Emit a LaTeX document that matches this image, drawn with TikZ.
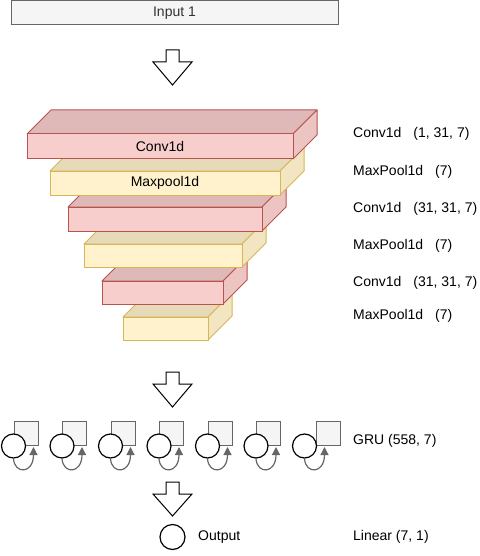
\documentclass[tikz,border=0pt]{standalone}
\usepackage{fontspec}
\setmainfont{Liberation Sans}
\usetikzlibrary{arrows.meta,calc}
\definecolor{convfill}{HTML}{F8CECC}
\definecolor{convline}{HTML}{B85450}
\definecolor{convtop}{HTML}{DFB9B8}
\definecolor{convside}{HTML}{ECC4C2}
\definecolor{poolfill}{HTML}{FFF2CC}
\definecolor{poolline}{HTML}{D6B656}
\definecolor{pooltop}{HTML}{E6DAB8}
\definecolor{poolside}{HTML}{F2E6C2}
\definecolor{grayfill}{HTML}{F5F5F5}
\definecolor{grayline}{HTML}{666666}
\definecolor{txtdark}{HTML}{333333}
\newcommand{\gap}{\hspace{12pt}}
\tikzset{
  txt/.style={font=\fontsize{14}{16}\selectfont, text=black, inner sep=0pt},
  rlabel/.style={txt, anchor=west},
  blockarrow/.style={draw=black, fill=white, line width=1pt, line join=miter},
  cell/.style={circle, draw=black, fill=white, line width=1.2pt, minimum size=24pt, inner sep=0pt},
  state/.style={draw=grayline, fill=grayfill, line width=1pt, minimum size=24pt, inner sep=0pt, anchor=south west},
  loop/.style={draw=grayline, line width=1.2pt, -{Triangle[length=8pt,width=8pt]}},
}
% cube: #1 x1, #2 y1, #3 x2, #4 y2, #5 front, #6 top, #7 side, #8 line
\newcommand{\mycube}[8]{%
  \filldraw[fill=#6, draw=#8, line width=1pt, line join=round] (#1,#2) -- (#1+24,#2-24) -- (#3+24,#2-24) -- (#3,#2) -- cycle;
  \filldraw[fill=#7, draw=#8, line width=1pt, line join=round] (#3,#2) -- (#3+24,#2-24) -- (#3+24,#4-24) -- (#3,#4) -- cycle;
  \filldraw[fill=#5, draw=#8, line width=1pt] (#1,#2) rectangle (#3,#4);
}
\begin{document}
\begin{tikzpicture}[x=1pt, y=-1pt]
\useasboundingbox (0,0) rectangle (479,556);

% input
\node[draw=grayline, fill=grayfill, line width=1pt, minimum width=327pt, minimum height=24pt, inner sep=0pt,
      font=\fontsize{14}{16}\selectfont, text=txtdark] (input) at (174.5,13) {Input 1};

% block arrow 1
\filldraw[blockarrow] (166,50) -- (179,50) -- (179,62) -- (192,62) -- (172.5,85) -- (153,62) -- (166,62) -- cycle;

% cubes, bottom first
\mycube{123}{317}{208}{340}{poolfill}{pooltop}{poolside}{poolline}
\mycube{102}{281}{223}{304}{convfill}{convtop}{convside}{convline}
\mycube{84}{244}{242}{267}{poolfill}{pooltop}{poolside}{poolline}
\mycube{68}{207}{262}{231}{convfill}{convtop}{convside}{convline}
\mycube{50}{171}{280}{195}{poolfill}{pooltop}{poolside}{poolline}
\mycube{27}{134}{293}{159}{convfill}{convtop}{convside}{convline}
\node[txt] (conv1txt) at (160,146.5) {Conv1d};
\node[txt] (pool1txt) at (165,183) {Maxpool1d};

% right labels
\node[rlabel] (l1) at (353,134) {Conv1d\gap(1, 31, 7)};
\node[rlabel] (l2) at (353,171.5) {MaxPool1d\gap(7)};
\node[rlabel] (l3) at (353,208.5) {Conv1d\gap(31, 31, 7)};
\node[rlabel] (l4) at (353,246) {MaxPool1d\gap(7)};
\node[rlabel] (l5) at (353,283) {Conv1d\gap(31, 31, 7)};
\node[rlabel] (l6) at (353,316) {MaxPool1d\gap(7)};

% block arrow 2
\filldraw[blockarrow] (166,372) -- (179,372) -- (179,384) -- (192,384) -- (172.5,407) -- (153,384) -- (166,384) -- cycle;

% GRU cells
\foreach \i/\cx/\sx in {1/13.5/13.5, 2/62/62, 3/110.5/110.5, 4/159/159, 5/207.5/207.5, 6/256/256, 7/304.5/315.5} {
  \node[state] (s\i) at (\sx,446) {};
  \node[cell] (c\i) at (\cx,446) {};
  \coordinate (t\i) at (\cx+20,447);
  \draw[loop] (c\i.south) .. controls ++(1,16) and ($(t\i)+(0,27)$) .. (t\i);
}
\node[rlabel] (gru) at (353,441) {GRU (558, 7)};

% block arrow 3
\filldraw[blockarrow] (166,482) -- (179,482) -- (179,494) -- (192,494) -- (172.5,516) -- (153,494) -- (166,494) -- cycle;

% output
\node[cell, minimum size=25pt] (out) at (172.5,537) {};
\node[rlabel] (outtxt) at (198,537) {Output};
\node[rlabel] (lin) at (353,537) {Linear (7, 1)};
\end{tikzpicture}
\end{document}
